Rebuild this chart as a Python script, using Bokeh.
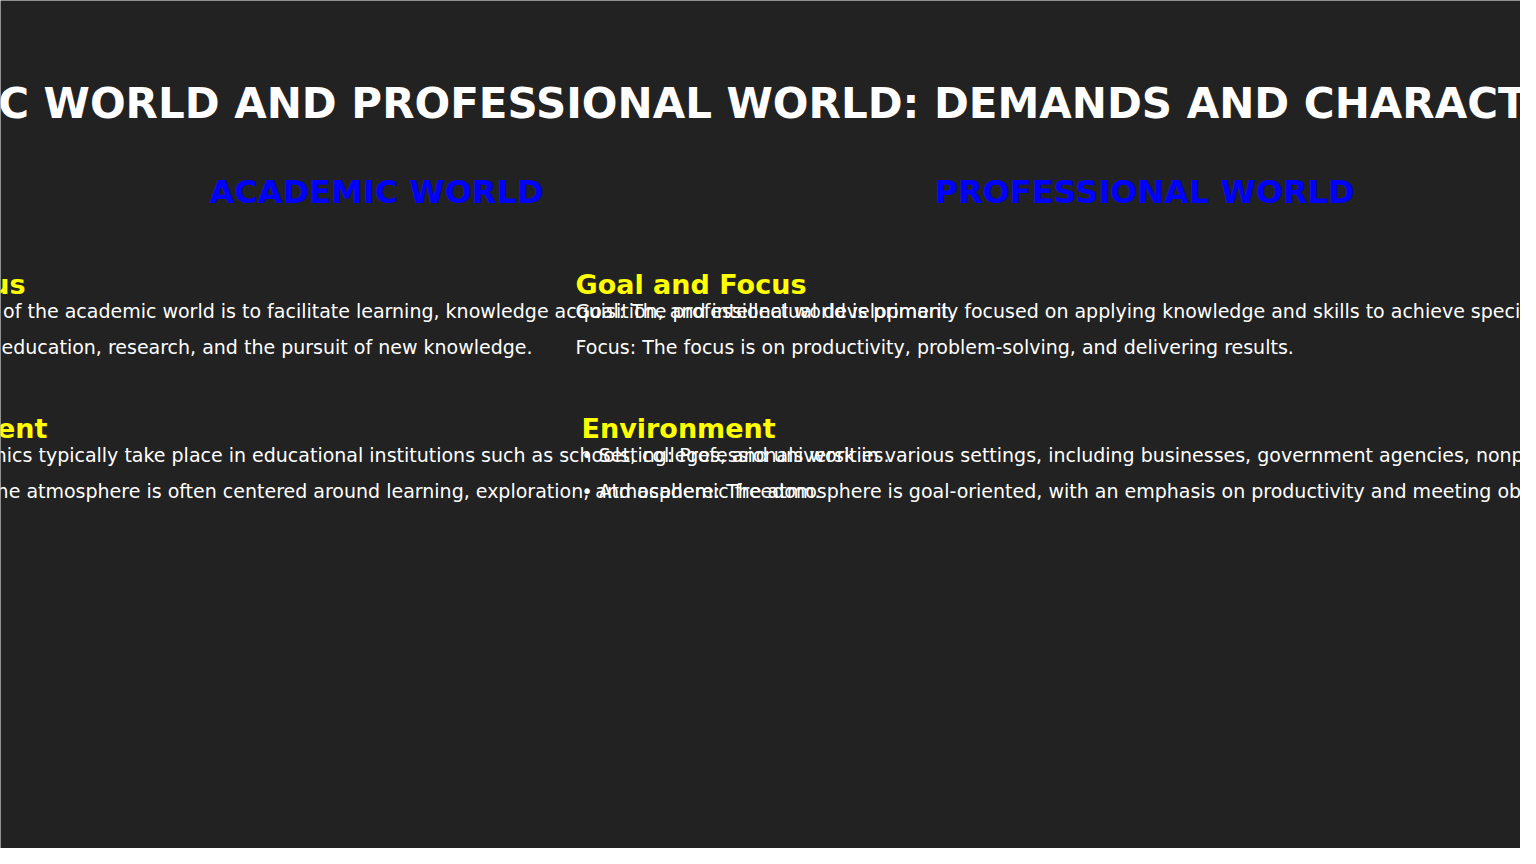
from bokeh.plotting import figure
from bokeh.models import Range1d
from bokeh.core.properties import value
from bokeh.embed import file_html
from bokeh.resources import INLINE

title = "ACADEMIC WORLD AND PROFESSIONAL WORLD: DEMANDS AND CHARACTERISTICS"
columns = ["ACADEMIC WORLD", "PROFESSIONAL WORLD"]
sections = ["Goal and Focus", "Environment"]

academic_lines = [
    ["Goal: The goal of the academic world is to facilitate learning, knowledge acquisition, and intellectual development.",
     "Focus: The focus is on education, research, and the pursuit of new knowledge."],
    ["\u2022 Setting: Academics typically take place in educational institutions such as schools, colleges, and universities.",
     "\u2022 Atmosphere: The atmosphere is often centered around learning, exploration, and academic freedom."],
]
professional_lines = [
    ["Goal: The professional world is primarily focused on applying knowledge and skills to achieve specific objectives.",
     "Focus: The focus is on productivity, problem-solving, and delivering results."],
    ["\u2022 Setting: Professionals work in various settings, including businesses, government agencies, nonprofit organizations.",
     "\u2022 Atmosphere: The atmosphere is goal-oriented, with an emphasis on productivity and meeting objectives."],
]

BG = "#222222"
FONT = value("DejaVu Sans")

p = figure(width=1520, height=848, output_backend="svg", toolbar_location=None,
           x_range=Range1d(0, 1520), y_range=Range1d(848, 0), min_border=0)
p.axis.visible = False
p.grid.visible = False
p.outline_line_color = None
p.background_fill_color = BG
p.border_fill_color = BG


def txt(x, y, s, size, color, bold=False, align="left"):
    p.text(x=[x], y=[y], text=[s], text_font=FONT, text_font_size=size,
           text_color=color, text_align=align, text_baseline="middle",
           text_font_style="bold" if bold else "normal")


txt(760, 103, title, "42px", "white", True, "center")
txt(376, 191, columns[0], "32px", "#0000ff", True, "center")
txt(1144, 191, columns[1], "32px", "#0000ff", True, "center")

# academic column (overflows left edge, as in the original)
head_y = [284, 428]
line_y = [[310, 346], [454, 490]]
acad_head_right = [25, 47]
acad_line_right = [[954, 532], [889, 820]]
for i, s in enumerate(sections):
    txt(acad_head_right[i], head_y[i], s, "27px", "yellow", True, "right")
    for j, line in enumerate(academic_lines[i]):
        txt(acad_line_right[i][j], line_y[i][j], line, "19px", "white", False, "right")

# professional column
prof_x = [575, 581]
for i, s in enumerate(sections):
    txt(prof_x[i], head_y[i], s, "27px", "yellow", True, "left")
    for j, line in enumerate(professional_lines[i]):
        txt(prof_x[i], line_y[i][j], line, "19px", "white", False, "left")

open("out.html", "w").write(file_html(p, INLINE))
